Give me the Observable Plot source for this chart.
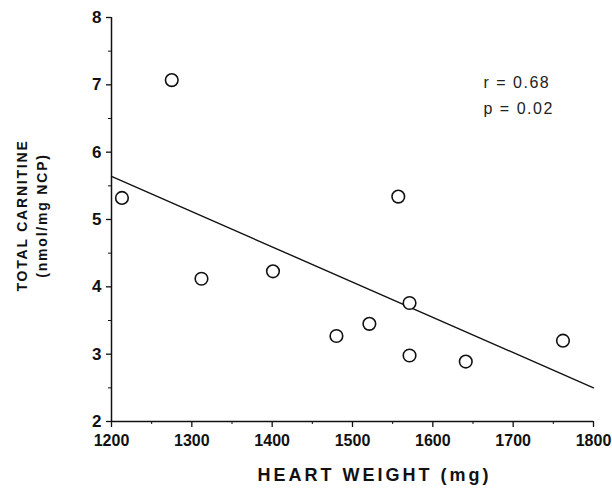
<!DOCTYPE html>
<html>
<head>
<meta charset="utf-8">
<script src="https://cdn.jsdelivr.net/npm/d3@7"></script>
<script src="https://cdn.jsdelivr.net/npm/@observablehq/plot@0.6"></script>
<style>
  html, body { margin: 0; padding: 0; background: #fff; }
  #chart { width: 612px; height: 496px; }
</style>
</head>
<body>
<div id="chart"></div>
<script>
// Data
const heartWeight = [1213, 1275, 1312, 1401, 1480, 1521, 1557, 1571, 1571, 1641, 1762];
const totalCarnitine = [5.32, 7.07, 4.12, 4.23, 3.27, 3.45, 5.34, 3.76, 2.98, 2.89, 3.2];
const fitX = [1200, 1800];
const fitY = [5.64, 2.5];
const xTicks = [1200, 1300, 1400, 1500, 1600, 1700, 1800];
const xMinor = [1250, 1350, 1450, 1550, 1650, 1750];
const yTicks = [2, 3, 4, 5, 6, 7, 8];
const yMinor = [2.5, 3.5, 4.5, 5.5, 6.5, 7.5];
const statsLines = ["r = 0.68", "p = 0.02"];
const xTitle = "HEART WEIGHT (mg)";
const yTitle = ["TOTAL CARNITINE", "(nmol/mg NCP)"];

const points = heartWeight.map((x, i) => ({x, y: totalCarnitine[i]}));
const fit = fitX.map((x, i) => ({x, y: fitY[i]}));

const font = "'Liberation Sans', Arial, Helvetica, sans-serif";

const chart = Plot.plot({
  width: 612,
  height: 496,
  marginLeft: 111,
  marginRight: 19,
  marginTop: 17,
  marginBottom: 75,
  style: {fontFamily: font, background: "#fff", color: "#111"},
  x: {domain: [1200, 1800]},
  y: {domain: [2, 8]},
  marks: [
    Plot.axisX({ticks: xTicks, tickSize: 6, tickPadding: 7, fontSize: 16, fontWeight: "bold", label: null, tickFormat: d => String(d), stroke: "#111", strokeWidth: 1.3, fill: "#111"}),
    Plot.axisX({ticks: xMinor, tickSize: 3, text: null, label: null, stroke: "#111"}),
    Plot.axisY({ticks: yTicks, tickSize: 5, tickPadding: 5, fontSize: 17, fontWeight: "bold", label: null, tickFormat: d => String(d), stroke: "#111", strokeWidth: 1.3, fill: "#111"}),
    Plot.axisY({ticks: yMinor, tickSize: 3, text: null, label: null, stroke: "#111"}),
    Plot.ruleX([1200], {stroke: "#111", strokeWidth: 1.5}),
    Plot.ruleY([2], {stroke: "#111", strokeWidth: 1.5}),
    Plot.line(fit, {x: "x", y: "y", stroke: "#111", strokeWidth: 1.4}),
    Plot.dot(points, {x: "x", y: "y", r: 6.3, stroke: "#111", strokeWidth: 1.6, fill: "#fff"}),
    Plot.text([statsLines.join("\n")], {frameAnchor: "top-left", dx: 372, dy: 75, lineAnchor: "middle", lineHeight: 1.625, fontSize: 16, textAnchor: "start", fill: "#222", className: "stats"}),
    Plot.text([xTitle], {frameAnchor: "bottom", dx: 22, dy: 54, lineAnchor: "middle", fontSize: 18, fontWeight: "bold", fill: "#111", textAnchor: "middle", className: "xtitle"}),
    Plot.text([yTitle.join("\n")], {frameAnchor: "left", dx: -81, dy: -4, rotate: -90, lineAnchor: "middle", textAnchor: "middle", fontSize: 14, fontWeight: "bold", fill: "#111", lineHeight: 1.43, className: "ytitle"})
  ]
});
const svg = d3.select(chart);
svg.selectAll('g[aria-label="x-axis tick label"] text').style("font-size", "16px").style("font-weight", "bold");
svg.selectAll('g[aria-label="y-axis tick label"] text').style("font-size", "17px").style("font-weight", "bold");
svg.select("g.stats").style("letter-spacing", "1.5px");
svg.select("g.xtitle").style("letter-spacing", "3px");
svg.select("g.ytitle").style("letter-spacing", "1.8px");
document.getElementById("chart").appendChild(chart);
</script>
</body>
</html>
